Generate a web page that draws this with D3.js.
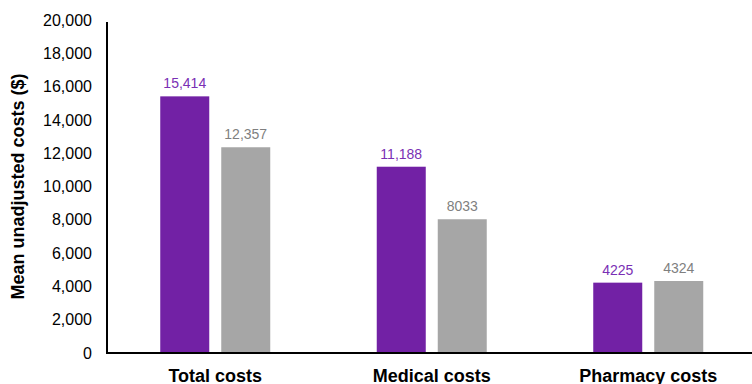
<!DOCTYPE html>
<html>
<head>
<meta charset="utf-8">
<script src="https://cdn.jsdelivr.net/npm/d3@7"></script>
<style>
  body { margin: 0; background: #fff; }
  svg { display: block; font-family: Arial, "Liberation Sans", sans-serif; }
</style>
</head>
<body>
<svg width="752" height="384"></svg>
<script>
const categories = ["Total costs", "Medical costs", "Pharmacy costs"];
const groupA = [15414, 11188, 4225];
const groupB = [12357, 8033, 4324];
const labelsA = ["15,414", "11,188", "4225"];
const labelsB = ["12,357", "8033", "4324"];
const yTicks = [0, 2000, 4000, 6000, 8000, 10000, 12000, 14000, 16000, 18000, 20000];

const PURPLE = "#7221a5", GRAY = "#a6a6a6";
const PURPLE_TXT = "#7a2fb4", GRAY_TXT = "#7f7f7f";

const chart = d3.select("svg");
const X0 = 107, Y0 = 353, YTOP = 20;

const y = d3.scaleLinear().domain([0, 20000]).range([Y0, YTOP]);
const x = d3.scaleBand().domain(categories).range([X0, X0 + 3 * 216.5]);

const BAR_W = 49, GAP = 6;

const rows = categories.map((c, i) => ({
    cat: c, a: groupA[i], b: groupB[i], la: labelsA[i], lb: labelsB[i]
}));

// y axis tick labels
chart.append("g")
     .selectAll("text")
     .data(yTicks)
     .enter()
     .append("text")
     .attr("x", X0 - 15)
     .attr("y", (d) => y(d))
     .attr("dy", "0.35em")
     .attr("text-anchor", "end")
     .attr("font-size", 16)
     .attr("fill", "#000")
     .text((d) => d === 0 ? "0" : d3.format(",")(d));

chart.append("text")
     .attr("transform", `translate(24, ${(Y0 + YTOP) / 2}) rotate(-90)`)
     .attr("text-anchor", "middle")
     .attr("font-size", 18)
     .attr("font-weight", "bold")
     .text("Mean unadjusted costs ($)");

const groups = chart.selectAll("g.cat")
                    .data(rows)
                    .enter()
                    .append("g")
                    .attr("class", "cat")
                    .attr("transform", (d) => `translate(${x(d.cat) + x.bandwidth() / 2}, 0)`);

groups.append("rect")
      .attr("x", -GAP - BAR_W)
      .attr("y", (d) => y(d.a))
      .attr("width", BAR_W)
      .attr("height", (d) => Y0 - y(d.a))
      .attr("fill", PURPLE);

groups.append("rect")
      .attr("x", GAP)
      .attr("y", (d) => y(d.b))
      .attr("width", BAR_W)
      .attr("height", (d) => Y0 - y(d.b))
      .attr("fill", GRAY);

groups.append("text")
      .attr("x", -GAP - BAR_W / 2)
      .attr("y", (d) => y(d.a) - 8)
      .attr("text-anchor", "middle")
      .attr("font-size", 14)
      .attr("fill", PURPLE_TXT)
      .text((d) => d.la);

groups.append("text")
      .attr("x", GAP + BAR_W / 2)
      .attr("y", (d) => y(d.b) - 8)
      .attr("text-anchor", "middle")
      .attr("font-size", 14)
      .attr("fill", GRAY_TXT)
      .text((d) => d.lb);

groups.append("text")
      .attr("x", 0)
      .attr("y", Y0 + 29)
      .attr("text-anchor", "middle")
      .attr("font-size", 18)
      .attr("font-weight", "bold")
      .text((d) => d.cat);

// axis lines
chart.append("line")
     .attr("x1", X0).attr("x2", X0)
     .attr("y1", YTOP + 2).attr("y2", Y0 + 1)
     .attr("stroke", "#000").attr("stroke-width", 2);

chart.append("line")
     .attr("x1", X0 - 1).attr("x2", 752)
     .attr("y1", Y0).attr("y2", Y0)
     .attr("stroke", "#000").attr("stroke-width", 2);
</script>
</body>
</html>
